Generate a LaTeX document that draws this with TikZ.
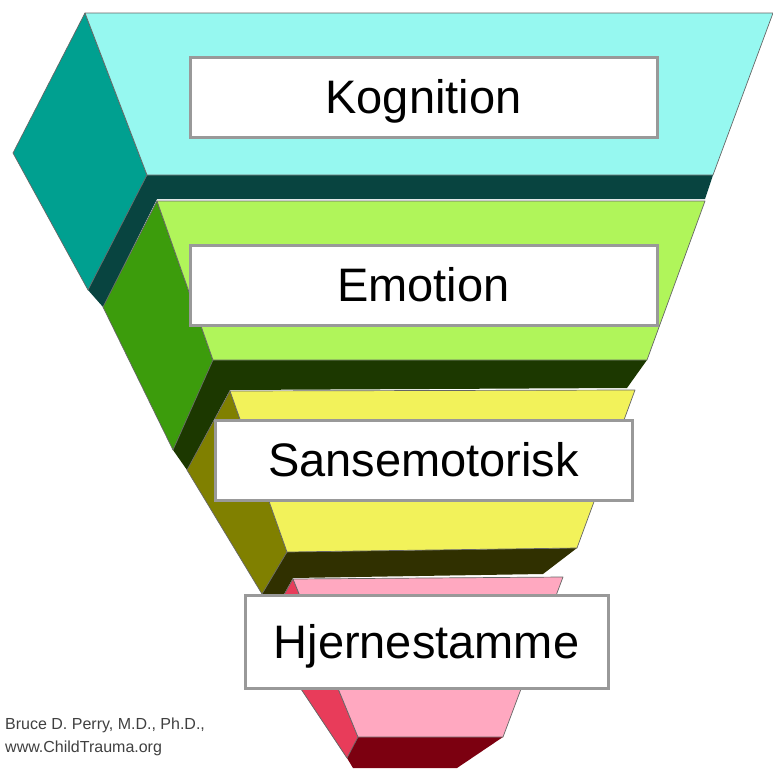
\documentclass[tikz,border=0pt]{standalone}
\usepackage{fontspec}
\setmainfont{Liberation Sans}
\definecolor{cyanTop}{RGB}{150,248,240}
\definecolor{cyanSide}{RGB}{0,160,144}
\definecolor{cyanDark}{RGB}{8,68,64}
\definecolor{greenTop}{RGB}{176,245,90}
\definecolor{greenSide}{RGB}{60,156,12}
\definecolor{greenDark}{RGB}{28,56,0}
\definecolor{yelTop}{RGB}{242,242,90}
\definecolor{yelSide}{RGB}{128,128,0}
\definecolor{yelDark}{RGB}{48,48,0}
\definecolor{pinkTop}{RGB}{255,168,192}
\definecolor{pinkSide}{RGB}{232,60,90}
\definecolor{pinkDark}{RGB}{124,0,16}
\definecolor{boxGray}{RGB}{153,153,153}
\tikzset{
  face/.style={draw=black!60, line width=0.7pt, line join=round},
  darkband/.style={line join=round},
  labelbox/.style={draw=boxGray, line width=3pt, fill=white, inner sep=0pt,
    font=\fontsize{47}{50}\selectfont, text height=33.7pt, text depth=0pt},
  credit/.style={anchor=base west, inner sep=0pt, text=black!75,
    font=\fontsize{16}{18}\selectfont}
}
\begin{document}
\begin{tikzpicture}[x=1pt,y=-1pt]
\useasboundingbox (0,0) rectangle (773,771);
% ---- layer 1: cyan
\fill[cyanDark, darkband] (88,290) -- (147,175) -- (713,175) -- (705,199) -- (157,199) -- (103,307) -- cycle;
\filldraw[face, fill=cyanSide] (85,13) -- (13,153) -- (88,290) -- (147,175) -- cycle;
\filldraw[face, fill=cyanTop] (85,13) -- (773,13) -- (713,175) -- (147,175) -- cycle;
% ---- layer 2: green
\fill[greenDark, darkband] (173,450) -- (213,360) -- (647,360) -- (627,388) -- (230,390) -- (187,470) -- cycle;
\filldraw[face, fill=greenSide] (157,201) -- (103,307) -- (173,450) -- (213,360) -- cycle;
\filldraw[face, fill=greenTop] (157,201) -- (705,201) -- (647,360) -- (213,360) -- cycle;
% ---- layer 3: yellow
\fill[yelDark, darkband] (262,594) -- (287,552) -- (577,548) -- (543,574) -- (293,578) -- (263,632) -- cycle;
\filldraw[face, fill=yelSide] (230,391) -- (187,470) -- (262,594) -- (287,552) -- cycle;
\filldraw[face, fill=yelTop] (230,391) -- (635,390) -- (577,548) -- (287,552) -- cycle;
% ---- layer 4: pink
\fill[pinkDark, darkband] (347,758) -- (358,737) -- (503,737) -- (457,768) -- (353,768) -- cycle;
\filldraw[face, fill=pinkSide] (293,579) -- (263,632) -- (347,758) -- (358,737) -- cycle;
\filldraw[face, fill=pinkTop] (293,579) -- (563,577) -- (503,737) -- (358,737) -- cycle;
% ---- labels
\node[labelbox, minimum width=467pt, minimum height=80pt] (kog) at (423.5,97) {Kognition};
\node[labelbox, minimum width=467pt, minimum height=80pt] (emo) at (423.5,285) {Emotion};
\node[labelbox, minimum width=417pt, minimum height=80pt] (san) at (423.5,460) {Sansemotorisk};
\node[labelbox, minimum width=363pt, minimum height=93pt] (hje) at (426.5,641.5) {Hjernestamme};
% ---- credit
\node[credit] (cr1) at (5,729) {Bruce D. Perry, M.D., Ph.D.,};
\node[credit] (cr2) at (5,752) {www.ChildTrauma.org};
\end{tikzpicture}
\end{document}
